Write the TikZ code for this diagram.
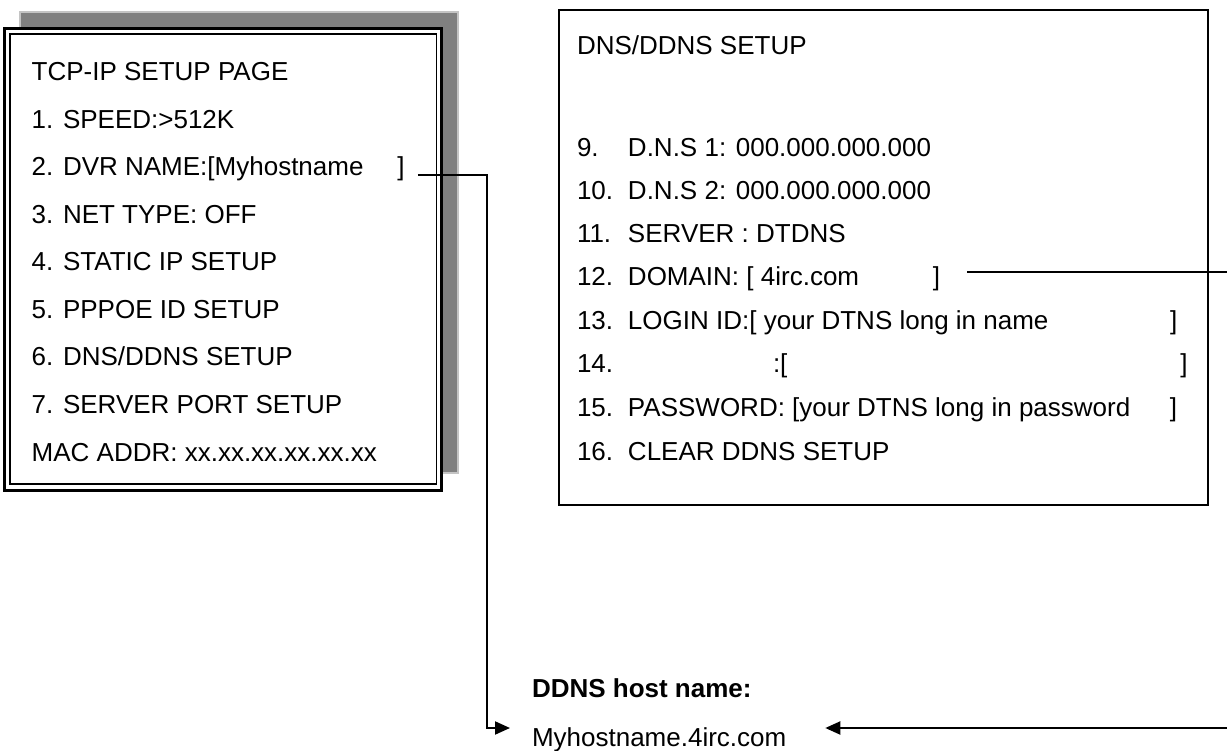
\documentclass[tikz,border=0pt]{standalone}
\usepackage{fontspec}
\setmainfont{Liberation Sans}
\usetikzlibrary{arrows.meta,calc}
\definecolor{shadowgray}{HTML}{808080}
\definecolor{shadowedge}{HTML}{C4C4C4}
\begin{document}
\begin{tikzpicture}[x=1pt,y=-1pt,
  txt/.style={inner sep=0pt, outer sep=0pt, anchor=base west, font=\fontsize{26}{30}\selectfont},
  conn/.style={line width=2pt, draw=black},
  tip/.style={-{Triangle[length=15pt,width=13pt]}}]
\useasboundingbox (0,0) rectangle (1227,751);
\fill[white] (0,0) rectangle (1227,751);

% left box with shadow and double frame
\draw[fill=shadowgray, draw=shadowedge, line width=1.5pt] (20,12) rectangle (458,473);
\draw[fill=white, line width=3pt] (4.5,28.5) rectangle (441.5,490);
\draw[line width=1.5pt] (10,34) rectangle (436.5,484);

\node[txt] (lt)   at (31.7,81)  {TCP-IP SETUP PAGE};
\node[txt] (l1)   at (31.7,128.5) {1. SPEED:>512K};
\node[txt] (l2)   at (31.7,176) {2. DVR NAME:[Myhostname\hspace{34pt}]};
\node[txt] (l3)   at (31.7,223.5) {3. NET TYPE: OFF};
\node[txt] (l4)   at (31.7,271) {4. STATIC IP SETUP};
\node[txt] (l5)   at (31.7,318.5) {5. PPPOE ID SETUP};
\node[txt] (l6)   at (31.7,366) {6. DNS/DDNS SETUP};
\node[txt] (l7)   at (31.7,413.5) {7. SERVER PORT SETUP};
\node[txt] (lmac) at (31.7,461) {MAC ADDR: xx.xx.xx.xx.xx.xx};

% DNS/DDNS box
\draw[line width=1.5pt] (559,10) rectangle (1208,505);
\node[txt] (dt)  at (577,55)  {DNS/DDNS SETUP};
\node[txt] (r9)  at (577,157) {\makebox[51pt][l]{9.}D.N.S 1: 000.000.000.000};
\node[txt] (r10) at (577,200) {\makebox[51pt][l]{10.}D.N.S 2: 000.000.000.000};
\node[txt] (r11) at (577,243) {\makebox[51pt][l]{11.}SERVER : DTDNS};
\node[txt] (r12) at (577,286) {\makebox[51pt][l]{12.}\makebox[305pt][l]{DOMAIN: [ 4irc.com}]};
\node[txt] (r13) at (577,329.5) {\makebox[51pt][l]{13.}\makebox[542pt][l]{LOGIN ID:[ your DTNS long in name}]};
\node[txt] (r14) at (577,373) {\makebox[51pt][l]{14.}\makebox[145pt][l]{}:[\makebox[393pt][l]{}]};
\node[txt] (r15) at (577,416.5) {\makebox[51pt][l]{15.}\makebox[542pt][l]{PASSWORD: [your DTNS long in password}]};
\node[txt] (r16) at (577,460) {\makebox[51pt][l]{16.}CLEAR DDNS SETUP};

% result
\node[txt, font=\fontsize{26}{30}\selectfont\bfseries] (hl) at (532,697) {DDNS host name:};
\node[txt] (host) at (532,746) {Myhostname.4irc.com};

% connectors
\coordinate (dvrEnd) at ($(l2.base east)+(13,-1)$);
\coordinate (bendL) at (487,728);
\coordinate (tipL) at ($(host.base west)+(-22,-18)$);
\draw[conn,tip] (dvrEnd) -| (bendL) -- (tipL);

\coordinate (domEnd) at ($(r12.base east)+(27,-14)$);
\coordinate (bendR) at (1232,728);
\coordinate (tipR) at ($(host.base east)+(39,-18)$);
\draw[conn,tip] (domEnd) -| (bendR) -- (tipR);
\end{tikzpicture}
\end{document}
